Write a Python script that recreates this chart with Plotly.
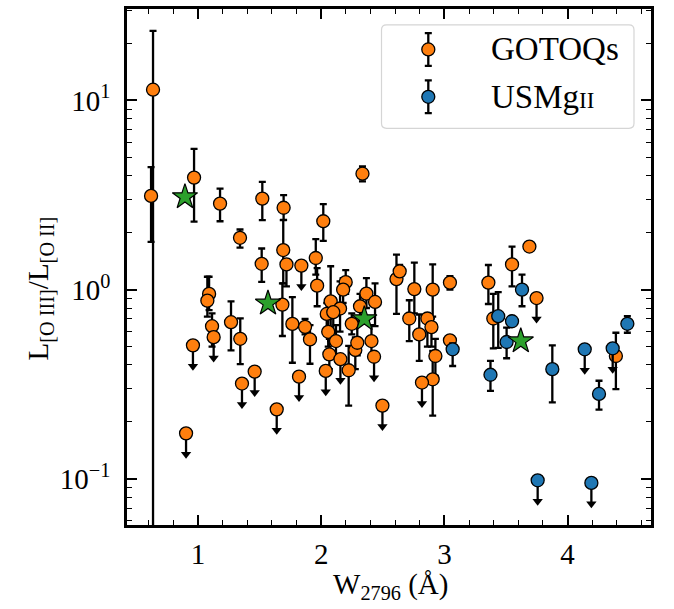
import numpy as np
import plotly.graph_objects as go

# ---------------- data ----------------
# GOTOQs detections: W2796, ratio, upper end of bar, lower end of bar
g_x = [0.635, 0.619, 0.968, 1.179, 1.341, 1.522, 1.695, 1.692, 1.517, 1.718,
       1.956, 1.967, 2.017, 2.335, 1.685, 1.090, 1.076, 1.114, 1.268, 1.343,
       1.766, 1.869, 1.909, 2.077, 2.199, 2.178, 2.153, 2.045, 2.098, 2.057,
       2.120, 2.066, 2.223, 2.277, 2.293, 2.248, 2.315, 2.367, 2.408, 2.437,
       2.611, 2.637, 2.756, 2.905, 3.045, 2.715, 2.796, 2.862, 2.895, 2.927,
       2.905, 3.045, 3.357, 3.397, 3.549, 3.690, 4.392]
g_y = [11.4, 3.13, 3.91, 2.85, 1.88, 3.03, 2.71, 1.62, 1.37, 1.36,
       1.47, 1.05, 2.30, 4.10, 0.834, 0.95, 0.875, 0.641, 0.673, 0.55,
       0.659, 0.636, 0.546, 0.868, 1.096, 1.0, 0.795, 0.744, 0.76, 0.599,
       0.535, 0.455, 0.375, 0.48, 0.524, 0.66, 0.817, 0.953, 0.535, 0.861,
       1.137, 1.25, 1.007, 1.0, 1.09, 0.704, 0.58, 0.704, 0.634, 0.446,
       0.336, 0.54, 1.09, 0.704, 1.36, 1.69, 0.446]
g_hi = [23.3, 4.44, 5.55, 3.42, 2.08, 3.71, 3.16, 2.33, 1.65, 1.45,
        1.85, 1.30, 2.83, 4.48, 1.08, 1.17, 1.17, 0.75, 0.868, 0.705,
        0.914, 0.70, 0.65, 1.33, 1.27, 1.15, 1.105, 0.85, 0.90, 0.70,
        0.65, 0.55, 0.504, 0.56, 0.65, 0.75, 0.95, 1.15, 0.65, 1.08,
        1.53, 1.35, 1.39, 1.36, 1.18, 0.879, 0.739, 0.75, 0.704, 0.55,
        0.474, 0.57, 1.35, 0.95, 1.69, 1.69, 0.592]
g_lo = [0.001, 1.79, 2.29, 2.30, 1.67, 2.33, 2.34, 1.08, 1.10, 1.04,
        1.20, 0.817, 1.81, 3.74, 0.569, 0.78, 0.72, 0.50, 0.478, 0.404,
        0.411, 0.58, 0.406, 0.535, 0.95, 0.85, 0.60, 0.62, 0.60, 0.50,
        0.45, 0.38, 0.244, 0.38, 0.45, 0.58, 0.68, 0.80, 0.45, 0.641,
        0.744, 1.15, 0.75, 0.72, 1.0, 0.535, 0.42, 0.50, 0.50, 0.35,
        0.216, 0.50, 0.84, 0.49, 1.04, 1.69, 0.298]
# GOTOQs upper limits
gul_x = [1.127, 0.959, 1.357, 1.460, 0.903, 1.839, 2.156, 2.037, 2.429,
         1.820, 1.639, 2.497, 2.818, 3.748]
gul_y = [0.561, 0.508, 0.319, 0.369, 0.174, 1.34, 0.429, 0.372, 0.442,
         0.347, 0.233, 0.244, 0.323, 0.903]

# USMgII detections
u_x = [3.067, 3.437, 3.549, 3.505, 3.374, 3.630, 3.876, 4.255, 4.485]
u_y = [0.484, 0.724, 0.681, 0.529, 0.355, 1.0, 0.38, 0.281, 0.66]
u_hi = [0.52, 0.97, 0.70, 0.63, 0.42, 1.2, 0.508, 0.33, 0.724]
u_lo = [0.395, 0.493, 0.66, 0.434, 0.292, 0.817, 0.254, 0.232, 0.592]
# USMgII upper limits
uul_x = [4.139, 4.366, 3.757, 4.193]
uul_y = [0.484, 0.49, 0.0983, 0.0952]

# highlighted points (stars)
s_x = [0.894, 1.568, 2.350, 3.620]
s_y = [3.09, 0.847, 0.70, 0.535]

x_ticks = [1, 2, 3, 4]
y_ticks = [0.1, 1, 10]
y_ticktext = ["10<sup>\u22121</sup>", "10<sup>0</sup>", "10<sup>1</sup>"]
x_title = "W<sub>2796</sub> (\u00c5)"
y_title = "L<sub>[O III]</sub>/L<sub>[O II]</sub>"

# ---------------- style ----------------
ORANGE = "#ff7f0e"
BLUE = "#1f77b4"
GREEN = "#2ca02c"
FONT = "Liberation Serif"
ARROW = 0.775   # upper-limit arrow length as a factor of the value
MSIZE = 13
ETHICK = 2.3

# plot-area pixel frame
W, H = 674, 609
PX_L, PX_R, PX_T, PX_B = 127, 651, 6, 525

fig = go.Figure()


def add_detections(x, y, hi, lo, color):
    y = np.asarray(y, float)
    fig.add_trace(go.Scatter(
        x=x, y=y, mode="markers",
        marker=dict(size=MSIZE, color=color, line=dict(color="black", width=1.3)),
        error_y=dict(type="data", symmetric=False,
                     array=np.asarray(hi) - y, arrayminus=y - np.asarray(lo),
                     color="black", thickness=ETHICK, width=3.5),
        showlegend=False, hoverinfo="x+y"))


def add_limits(x, y, color):
    y = np.asarray(y, float)
    tip = y * ARROW
    fig.add_trace(go.Scatter(
        x=x, y=tip, mode="markers",
        marker=dict(symbol="triangle-down", size=9, color="black"),
        showlegend=False, hoverinfo="skip"))
    fig.add_trace(go.Scatter(
        x=x, y=y, mode="markers",
        marker=dict(size=MSIZE, color=color, line=dict(color="black", width=1.3)),
        error_y=dict(type="data", symmetric=False,
                     array=np.zeros_like(y), arrayminus=y - tip,
                     color="black", thickness=ETHICK, width=0),
        showlegend=False, hoverinfo="x+y"))


add_detections(g_x, g_y, g_hi, g_lo, ORANGE)
add_limits(gul_x, gul_y, ORANGE)
add_detections(u_x, u_y, u_hi, u_lo, BLUE)
add_limits(uul_x, uul_y, BLUE)

fig.add_trace(go.Scatter(
    x=s_x, y=s_y, mode="markers",
    marker=dict(symbol="star", size=19, color=GREEN, line=dict(color="black", width=1.2)),
    showlegend=False))

# ---------------- hand-made legend (pixel-like overlay axes) ----------------
leg_names = ["GOTOQs", "USMg<span style='font-size:23px'>II</span>"]
leg_colors = [ORANGE, BLUE]
leg_y = [46.7, 94.3]
for name, col, yy in zip(leg_names, leg_colors, leg_y):
    fig.add_trace(go.Scatter(
        x=[428.3], y=[yy], xaxis="x2", yaxis="y2", mode="markers",
        marker=dict(size=MSIZE, color=col, line=dict(color="black", width=1.3)),
        error_y=dict(type="data", array=[16.5], color="black", thickness=ETHICK, width=3.5),
        showlegend=False, hoverinfo="skip"))
    fig.add_annotation(x=489, y=yy, xref="x2", yref="y2", text=name,
                       showarrow=False, xanchor="left", yanchor="middle",
                       font=dict(family=FONT, size=33, color="black"))

bx0, bx1, by0, by1, r = 381.5, 634, 22, 126, 5
path = (f"M{bx0+r},{by0} L{bx1-r},{by0} Q{bx1},{by0} {bx1},{by0+r} "
        f"L{bx1},{by1-r} Q{bx1},{by1} {bx1-r},{by1} L{bx0+r},{by1} "
        f"Q{bx0},{by1} {bx0},{by1-r} L{bx0},{by0+r} Q{bx0},{by0} {bx0+r},{by0} Z")
fig.add_shape(type="path", path=path, xref="x2", yref="y2",
              line=dict(color="#d5d5d5", width=1.2), fillcolor="white", layer="below")

# ---------------- axis titles as annotations (paper coords) ----------------
pw, ph = PX_R - PX_L, PX_B - PX_T
fig.add_annotation(x=(390 - PX_L) / pw, y=(PX_B - 586) / ph, xref="paper", yref="paper",
                   text=x_title, showarrow=False, xanchor="center", yanchor="middle",
                   font=dict(family=FONT, size=29, color="black"))
fig.add_annotation(x=(40 - PX_L) / pw, y=(PX_B - 287) / ph, xref="paper", yref="paper",
                   text=y_title, showarrow=False, xanchor="center", yanchor="middle",
                   textangle=-90, font=dict(family=FONT, size=29, color="black"))

# ---------------- axes ----------------
x_minor = [round(v, 1) for v in np.arange(0.6, 4.61, 0.2) if abs(v - round(v)) > 1e-6]
y_minor = [m * 10.0 ** e for e in (-2, -1, 0, 1) for m in range(2, 10)]

axis_common = dict(showline=True, linecolor="black", linewidth=2.5, mirror="ticks",
                   ticks="inside", ticklen=10, tickwidth=1.5, tickcolor="black",
                   showgrid=False, zeroline=False,
                   tickfont=dict(family=FONT, size=29, color="black"))

fig.update_layout(
    width=W, height=H,
    margin=dict(l=PX_L, r=W - PX_R, t=PX_T, b=H - PX_B),
    paper_bgcolor="white", plot_bgcolor="white",
    font=dict(family=FONT, color="black"),
    xaxis=dict(range=[0.4237, 4.677], tickmode="array", tickvals=x_ticks,
               ticklabelstandoff=1,
               minor=dict(tickmode="array", tickvals=x_minor, ticks="inside",
                          ticklen=5, tickwidth=1.2, tickcolor="black", showgrid=False),
               **axis_common),
    yaxis=dict(type="log", range=[-1.2438, 1.4834], tickmode="array",
               tickvals=y_ticks, ticktext=y_ticktext, ticklabelstandoff=8,
               minor=dict(tickmode="array", tickvals=y_minor, ticks="inside",
                          ticklen=5, tickwidth=1.2, tickcolor="black", showgrid=False),
               **axis_common),
    xaxis2=dict(range=[PX_L, PX_R], overlaying="x", anchor="y2", visible=False,
                fixedrange=True),
    yaxis2=dict(range=[PX_B, PX_T], overlaying="y", anchor="x2", visible=False,
                fixedrange=True),
)

fig.write_html("out.html")
